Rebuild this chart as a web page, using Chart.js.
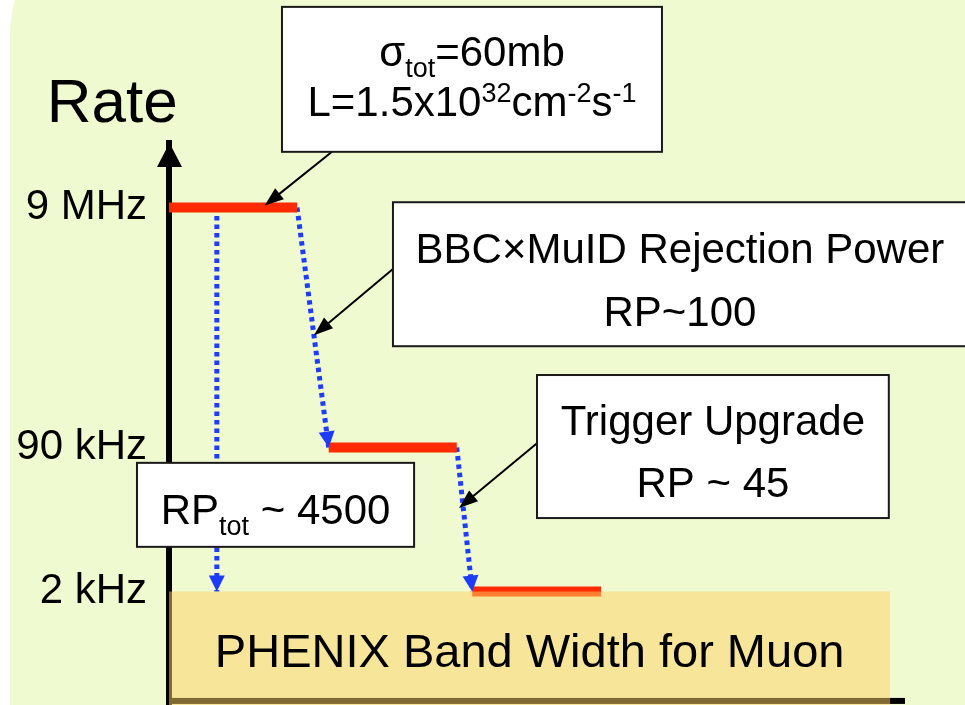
<!DOCTYPE html>
<html lang="en">
<head>
<meta charset="UTF-8">
<title>Muon Trigger Rate</title>
<script src="https://cdn.jsdelivr.net/npm/chart.js"></script>
<style>
    html, body { margin: 0; padding: 0; background: #fff; overflow: hidden; width: 965px; height: 705px; }
    /* light green slide panel with the rounded corner */
    .panel {
        position: absolute; left: 10px; top: -90px; right: -60px; bottom: -60px;
        background: #effad1;
        border-top-left-radius: 125px;
    }
    .chart-box { position: absolute; left: 0; top: 0; width: 965px; height: 705px; }
    canvas { display: block; }
</style>
</head>
<body>
<div class="panel"></div>
<div class="chart-box"><canvas id="rateChart" width="965" height="705"></canvas></div>

<script>
// rate levels (y is a schematic level, labelled with the rate)
const levelLabels = ['9 MHz', '90 kHz', '2 kHz'];
const levelValues = [80, 30, 0];
// horizontal extent of each rate step
const stepFrom = [0, 21.7, 41.2];
const stepTo   = [17.4, 39.1, 58.7];
// total rejection arrow position
const totalArrowX = 6.5;
// PHENIX band width box (x range, top level)
const bandX = [0, 98];
const bandTop = 0;

const FONT = "'Liberation Sans', Arial, Helvetica, sans-serif";
const RED = '#ff2a00';
const BLUE = '#1e3cff';

// callout boxes, in chart units; text baselines are px below box top
const callouts = [
    {
        box: [15.35, 121.8, 66.98, 91.6],
        lines: [
            [{t: 'σ'}, {t: 'tot', s: 'sub'}, {t: '=60mb'}],
            [{t: 'L=1.5x10'}, {t: '32', s: 'sup'}, {t: 'cm'}, {t: '-2', s: 'sup'}, {t: 's'}, {t: '-1', s: 'sup'}]
        ],
        base: [59, 109],
        leader: [[22.15, 91.6], [13.0, 80.4]]
    },
    {
        box: [30.43, 81.1, 108.4, 51.1],
        lines: [[{t: 'BBC×MuID Rejection Power'}], [{t: 'RP~100'}]],
        base: [61, 124],
        leader: [[30.43, 67.2], [19.7, 53.4]]
    },
    {
        box: [50.0, 45.1, 97.8, 15.3],
        lines: [[{t: 'Trigger Upgrade'}], [{t: 'RP ~ 45'}]],
        base: [60, 122],
        leader: [[50.0, 30.9], [39.4, 17.4]]
    },
    {
        box: [-4.35, 26.8, 33.3, 9.3],
        lines: [[{t: 'RP'}, {t: 'tot', s: 'sub'}, {t: ' ~ 4500'}]],
        base: [61],
        leader: null
    }
];

function drawRich(ctx, parts, cx, baseline, size) {
    let total = 0;
    const widths = parts.map(p => {
        ctx.font = (p.s ? Math.round(size * 0.65) : size) + 'px ' + FONT;
        const w = ctx.measureText(p.t).width;
        total += w;
        return w;
    });
    let xPos = cx - total / 2;
    parts.forEach((p, i) => {
        ctx.font = (p.s ? Math.round(size * 0.65) : size) + 'px ' + FONT;
        const dy = p.s === 'sub' ? size * 0.26 : (p.s === 'sup' ? -size * 0.33 : 0);
        ctx.fillText(p.t, xPos, baseline + dy);
        xPos += widths[i];
    });
}

function arrowHead(ctx, x1, y1, x2, y2, len, half) {
    const a = Math.atan2(y2 - y1, x2 - x1);
    ctx.beginPath();
    ctx.moveTo(x2, y2);
    ctx.lineTo(x2 - len * Math.cos(a) + half * Math.sin(a), y2 - len * Math.sin(a) - half * Math.cos(a));
    ctx.lineTo(x2 - len * Math.cos(a) - half * Math.sin(a), y2 - len * Math.sin(a) + half * Math.cos(a));
    ctx.closePath();
    ctx.fill();
}

const sketchPlugin = {
    id: 'sketch',
    beforeDatasetsDraw(chart) {
        const {ctx, chartArea, scales: {y}} = chart;
        ctx.save();
        ctx.fillStyle = '#000';
        // bottom axis
        const yb = y.getPixelForValue(-22.8);
        ctx.fillRect(chartArea.left - 3, yb - 3, chartArea.right - chartArea.left + 3, 6);
        // arrow on the rate axis
        ctx.beginPath();
        ctx.moveTo(chartArea.left + 0.5, chartArea.top);
        ctx.lineTo(chartArea.left - 12, chartArea.top + 24);
        ctx.lineTo(chartArea.left + 13, chartArea.top + 24);
        ctx.closePath();
        ctx.fill();
        ctx.restore();
    },
    afterDatasetsDraw(chart) {
        const {ctx} = chart;
        ctx.save();
        ctx.fillStyle = BLUE;
        chart.data.datasets.forEach((ds, i) => {
            if (!ds.arrow) return;
            const pts = chart.getDatasetMeta(i).data;
            const p1 = pts[pts.length - 2], p2 = pts[pts.length - 1];
            arrowHead(ctx, p1.x, p1.y, p2.x, p2.y, 16, 8);
        });
        ctx.restore();
    },
    afterDraw(chart) {
        const {ctx, scales: {x, y}} = chart;
        ctx.save();
        ctx.textAlign = 'left';
        ctx.textBaseline = 'alphabetic';
        ctx.fillStyle = '#000';

        // axis title
        ctx.font = '62px ' + FONT;
        ctx.fillText('Rate', x.getPixelForValue(-16.6), y.getPixelForValue(97.8));

        // band label
        drawRich(ctx, [{t: 'PHENIX Band Width for Muon'}],
            (x.getPixelForValue(bandX[0]) + x.getPixelForValue(bandX[1])) / 2,
            y.getPixelForValue(-15.7), 47);

        // leader lines
        callouts.forEach(c => {
            if (!c.leader) return;
            const x1 = x.getPixelForValue(c.leader[0][0]), y1 = y.getPixelForValue(c.leader[0][1]);
            const x2 = x.getPixelForValue(c.leader[1][0]), y2 = y.getPixelForValue(c.leader[1][1]);
            ctx.strokeStyle = '#000';
            ctx.lineWidth = 2;
            ctx.beginPath();
            ctx.moveTo(x1, y1);
            const a = Math.atan2(y2 - y1, x2 - x1);
            ctx.lineTo(x2 - 14 * Math.cos(a), y2 - 14 * Math.sin(a));
            ctx.stroke();
            ctx.fillStyle = '#000';
            arrowHead(ctx, x1, y1, x2, y2, 19, 7);
        });

        // boxes with text
        callouts.forEach(c => {
            const bx0 = x.getPixelForValue(c.box[0]), by0 = y.getPixelForValue(c.box[1]);
            const bx1 = x.getPixelForValue(c.box[2]), by1 = y.getPixelForValue(c.box[3]);
            ctx.fillStyle = '#fff';
            ctx.fillRect(bx0, by0, bx1 - bx0, by1 - by0);
            ctx.strokeStyle = '#1a1a1a';
            ctx.lineWidth = 2;
            ctx.strokeRect(bx0, by0, bx1 - bx0, by1 - by0);
            ctx.fillStyle = '#000';
            c.lines.forEach((ln, i) => drawRich(ctx, ln, (bx0 + bx1) / 2, by0 + c.base[i], 42));
        });
        ctx.restore();
    }
};

// build datasets from the arrays
const datasets = [];
datasets.push({
    label: 'PHENIX band width',
    data: [{x: bandX[0], y: bandTop}, {x: bandX[1], y: bandTop}],
    borderWidth: 0,
    pointRadius: 0,
    fill: 'start',
    backgroundColor: 'rgba(255, 210, 100, 0.5)'
});
levelValues.forEach((v, i) => {
    datasets.push({
        label: levelLabels[i],
        data: [{x: stepFrom[i], y: v}, {x: stepTo[i], y: v}],
        borderColor: RED,
        borderWidth: 10,
        borderCapStyle: 'butt',
        pointRadius: 0,
        fill: false
    });
});
const arrowPaths = [
    [[totalArrowX, levelValues[0]], [totalArrowX, levelValues[2]]],
    [[stepTo[0], levelValues[0]], [stepFrom[1], levelValues[1]]],
    [[stepTo[1], levelValues[1]], [stepFrom[2], levelValues[2]]]
];
arrowPaths.forEach((p, i) => {
    datasets.push({
        label: 'rejection ' + i,
        arrow: true,
        data: p.map(q => ({x: q[0], y: q[1]})),
        borderColor: BLUE,
        borderWidth: 5,
        borderDash: [4.5, 4],
        borderCapStyle: 'butt',
        pointRadius: 0,
        fill: false
    });
});

new Chart(document.getElementById('rateChart'), {
    type: 'line',
    data: { datasets: datasets },
    options: {
        responsive: false,
        animation: false,
        devicePixelRatio: 1,
        layout: { autoPadding: false, padding: { top: 143, right: 60, bottom: 0, left: 0 } },
        plugins: { legend: { display: false }, tooltip: { enabled: false } },
        scales: {
            x: { type: 'linear', min: 0, max: 100, display: false },
            y: {
                type: 'linear',
                min: -23.65,
                max: 93.44,
                grid: { display: false, drawTicks: false },
                border: { display: true, color: '#000', width: 6 },
                afterFit: (s) => { s.width = 169; s.paddingTop = 0; s.paddingBottom = 0; },
                afterBuildTicks: (s) => { s.ticks = levelValues.map(v => ({ value: v })); },
                ticks: {
                    autoSkip: false,
                    padding: 22,
                    color: '#000',
                    font: { family: FONT, size: 42 },
                    callback: (v) => levelLabels[levelValues.indexOf(v)]
                }
            }
        }
    },
    plugins: [sketchPlugin]
});
</script>
</body>
</html>
